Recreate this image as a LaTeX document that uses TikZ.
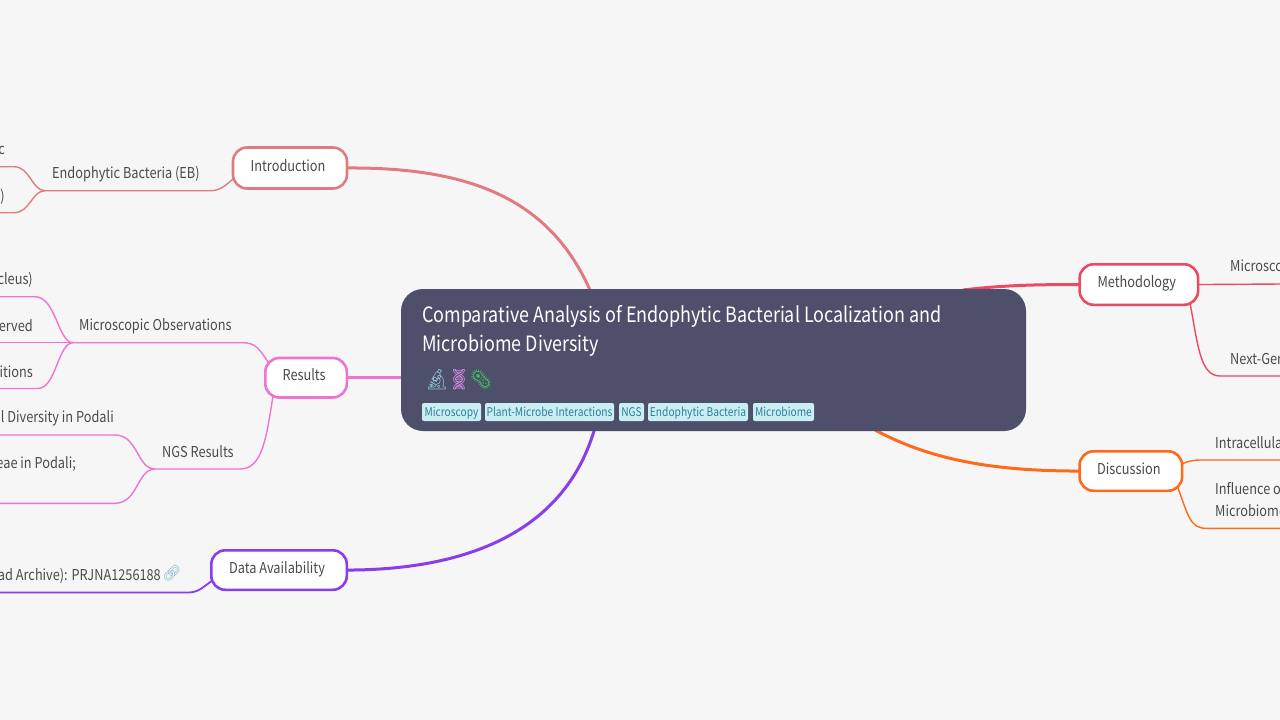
\documentclass[tikz,border=0pt]{standalone}
\usepackage{fontspec}
\setmainfont[FakeStretch=0.85]{Noto Sans CJK SC}
\newfontfamily\emojifont{Noto Emoji}
\pgfdeclarelayer{bg}
\pgfsetlayers{bg,main}
\definecolor{pagebg}{HTML}{F6F6F6}
\definecolor{rootfill}{HTML}{4D4F6B}
\definecolor{inkc}{HTML}{4A4A4A}
\definecolor{introc}{HTML}{E07B80}
\definecolor{resc}{HTML}{EF73D3}
\definecolor{datac}{HTML}{8A3DEB}
\definecolor{methc}{HTML}{EC4A60}
\definecolor{discc}{HTML}{FF6A1A}
\definecolor{tagfill}{HTML}{CBEEF5}
\definecolor{tagink}{HTML}{2F7F96}
\definecolor{emoa}{HTML}{8FBFCF}
\definecolor{emob}{HTML}{D68BE8}
\definecolor{emoc}{HTML}{3DBE5A}
\definecolor{emol}{HTML}{7FB4C8}
\tikzset{
  topic/.style={draw=#1,line width=2.6pt,fill=white,rounded corners=14pt,inner sep=0pt,outer sep=0pt,text=inkc,font=\fontsize{15}{18}\selectfont,anchor=north west,text height=11pt,text depth=5pt,execute at end node={\hspace*{4pt}}},
  lab/.style={text=inkc,font=\fontsize{15}{18}\selectfont,inner sep=0pt},
  mainl/.style={line width=3pt,draw=#1},
  subl/.style={line width=1.4pt,draw=#1},
  tagbox/.style={fill=tagfill,rounded corners=2pt,text=tagink,inner sep=0pt,outer sep=0pt,font=\fontsize{12}{14}\selectfont,anchor=north west,minimum height=18pt,text height=11pt,text depth=2pt},
  ttl/.style={text=white,inner sep=0pt,anchor=west,font=\fontsize{21.1}{26}\selectfont},
  emo/.style={inner sep=0pt,font=\emojifont\fontsize{20}{24}\selectfont},
}
\begin{document}
\begin{tikzpicture}[x=1pt,y=-1pt]
\useasboundingbox (0,0) rectangle (1280,720);
\clip (0,0) rectangle (1280,720);

% root
\node[fill=rootfill,rounded corners=22pt,inner sep=0pt,outer sep=0pt,minimum width=625pt,minimum height=142pt,anchor=north west] (root) at (401,289) {};
\node[ttl] (t1) at (422,316) {Comparative Analysis of Endophytic Bacterial Localization and};
\node[ttl] (t2) at (422,346) {Microbiome Diversity};
\node[emo,text=emoa] (e1) at (437,379.5) {🔬};
\node[emo,text=emob] (e2) at (459,379.5) {🧬};
\node[emo,text=emoc] (e3) at (481,379.5) {🦠};
\node[tagbox,minimum width=59pt] (g1) at (422,403) {Microscopy};
\node[tagbox,minimum width=129pt] (g2) at (485,403) {Plant-Microbe Interactions};
\node[tagbox,minimum width=25pt] (g3) at (619,403) {NGS};
\node[tagbox,minimum width=100pt] (g4) at (648,403) {Endophytic Bacteria};
\node[tagbox,minimum width=61pt] (g5) at (753,403) {Microbiome};

% topics
\node[topic=introc,minimum width=114pt,minimum height=41pt] (intro) at (233,147.5) {Introduction};
\node[topic=resc,minimum width=81.5pt,minimum height=39.5pt] (res) at (265.3,358) {Results};
\node[topic=datac,minimum width=135.5pt,minimum height=39.5pt] (data) at (211.3,550.3) {Data Availability};
\node[topic=methc,minimum width=118.5pt,minimum height=40.5pt] (meth) at (1079.6,264.3) {Methodology};
\node[topic=discc,minimum width=102.5pt,minimum height=39.5pt] (disc) at (1079.6,451.3) {Discussion};

% labels
\node[lab,anchor=west] (eb) at (52,174) {Endophytic Bacteria (EB)};
\node[lab,anchor=east] (eb1) at (5,150.5) {c};
\node[lab,anchor=east] (eb2) at (5,196.5) {)};
\node[lab,anchor=west] (mo) at (79,326) {Microscopic Observations};
\node[lab,anchor=east] (mo1) at (33,280) {cleus)};
\node[lab,anchor=east] (mo2) at (33,326) {erved};
\node[lab,anchor=east] (mo3) at (33,372) {itions};
\node[lab,anchor=west] (ngs) at (162,452) {NGS Results};
\node[lab,anchor=east] (ngs1) at (114,418) {l Diversity in Podali};
\node[lab,anchor=east] (ngs2) at (76,464) {eae in Podali;};
\node[lab,anchor=east] (da) at (161,575.5) {ad Archive): PRJNA1256188};
\node[emo,text=emol,font=\emojifont\fontsize{15}{18}\selectfont] (lnk) at (172,573) {🔗};
\node[lab,anchor=west] (m1) at (1230,267) {Microscopy};
\node[lab,anchor=west] (m2) at (1230,359) {Next-Generation};
\node[lab,anchor=west] (d1) at (1215,443) {Intracellular};
\node[lab,anchor=west] (d2) at (1215,489) {Influence of};
\node[lab,anchor=west] (d3) at (1215,511) {Microbiome};

% hidden ends on or behind the boxes
\coordinate (rIntro) at (593,297);
\coordinate (rData) at (597,420);
\coordinate (rMeth) at (963,290);
\coordinate (rDisc) at (868,426);
\coordinate (intS) at (233,179);
\coordinate (resN) at (268,362);
\coordinate (resS) at (273,396);
\coordinate (datS) at (213,580);
\coordinate (metS) at (1190,303);
\coordinate (disN) at (1182,464);
\coordinate (disS) at (1178,488);
% junctions and free ends
\coordinate (ebj) at (45,190.7);
\coordinate (moj) at (73,342.7);
\coordinate (ngj) at (155,469);
\coordinate (la) at (-2,166.7);
\coordinate (lb) at (-2,212.7);
\coordinate (lc) at (-2,296.7);
\coordinate (ld) at (-2,342.7);
\coordinate (le) at (-2,388.5);
\coordinate (lf) at (-2,435);
\coordinate (lg) at (-2,503.3);
\coordinate (lh) at (-2,592.5);
\coordinate (ra) at (1282,284);
\coordinate (rb) at (1282,376);
\coordinate (rc) at (1282,460);
\coordinate (rd) at (1282,528.3);

\begin{pgfonlayer}{bg}
\fill[pagebg] (0,0) rectangle (1280,720);
% main branches
\draw[mainl=introc] (intro.east) .. controls (480,167) and (555,205) .. (rIntro);
\draw[mainl=resc] (res.east) -- (root.west |- res.east);
\draw[mainl=datac] (data.east) .. controls (470,570) and (570,530) .. (rData);
\draw[mainl=methc] (meth.west) .. controls (1040,284.5) and (1005,285) .. (rMeth);
\draw[mainl=discc] (disc.west) .. controls (1000,471) and (930,462) .. (rDisc);
% Introduction
\draw[subl=introc] (intS) .. controls (224,187) and (219,190.7) .. (210,190.7) -- (ebj);
\draw[subl=introc] (ebj) .. controls (32,190.7) and (30,166.7) .. (14,166.7) -- (la);
\draw[subl=introc] (ebj) .. controls (32,190.7) and (30,212.7) .. (14,212.7) -- (lb);
% Results
\draw[subl=resc] (resN) .. controls (260,350) and (256,342.7) .. (243,342.7) -- (moj);
\draw[subl=resc] (moj) .. controls (58,342.7) and (56,296.7) .. (35,296.7) -- (lc);
\draw[subl=resc] (moj) -- (ld);
\draw[subl=resc] (moj) .. controls (58,342.7) and (56,388.5) .. (38,388.5) -- (le);
\draw[subl=resc] (resS) .. controls (266,440) and (262,469) .. (240,469) -- (ngj);
\draw[subl=resc] (ngj) .. controls (137,469) and (138,435) .. (115,435) -- (lf);
\draw[subl=resc] (ngj) .. controls (137,469) and (138,503.3) .. (115,503.3) -- (lg);
% Data Availability
\draw[subl=datac,line width=1.8pt] (datS) .. controls (202,588) and (198,592.5) .. (188,592.5) -- (lh);
% Methodology
\draw[subl=methc] (meth.east) -- (ra);
\draw[subl=methc] (metS) .. controls (1198,345) and (1200,376) .. (1220,376) -- (rb);
% Discussion
\draw[subl=discc] (disN) .. controls (1188,461) and (1193,460) .. (1202,460) -- (rc);
\draw[subl=discc] (disS) .. controls (1188,515) and (1190,528.3) .. (1206,528.3) -- (rd);
\end{pgfonlayer}
\end{tikzpicture}
\end{document}
